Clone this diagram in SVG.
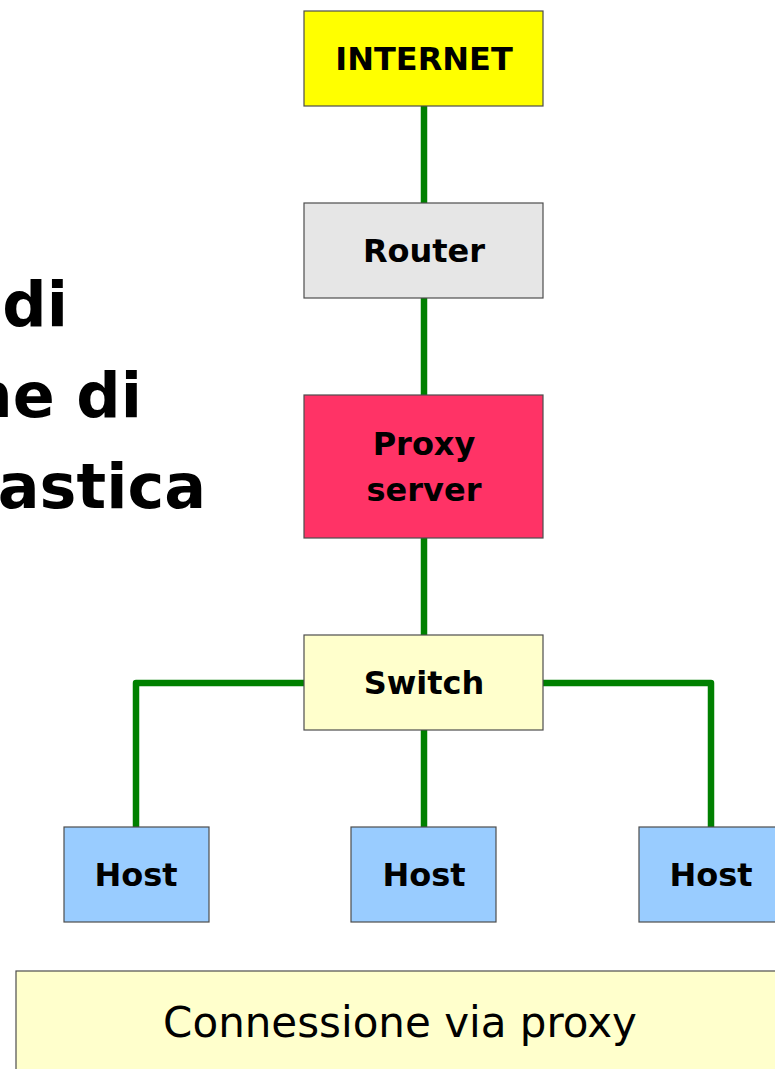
<svg xmlns="http://www.w3.org/2000/svg" width="775" height="1069" viewBox="0 0 775 1069">
  <style>
    .box { stroke: #4d4d4d; stroke-width: 1.2; }
    .lbl { font-family: "DejaVu Sans", "Liberation Sans", sans-serif; font-weight: bold; font-size: 32px; fill: #000; text-anchor: middle; }
    .title { font-family: "DejaVu Sans", "Liberation Sans", sans-serif; font-weight: bold; font-size: 62px; fill: #000; text-anchor: end; }
    .link { fill: none; stroke: #008000; stroke-width: 6.5; stroke-linejoin: round; }
  </style>
  <rect width="775" height="1069" fill="#ffffff"/>

  <!-- title text, partly outside the page -->
  <g id="title">
    <text class="title" x="68" y="326">di</text>
    <text class="title" x="142" y="417">ne di</text>
    <text class="title" x="206" y="508">astica</text>
  </g>

  <!-- cabling -->
  <g id="connectors">
    <line class="link" x1="424" y1="106" x2="424" y2="203"/>
    <line class="link" x1="424" y1="298" x2="424" y2="395"/>
    <line class="link" x1="424" y1="538" x2="424" y2="635"/>
    <line class="link" x1="424" y1="730" x2="424" y2="827"/>
    <polyline class="link" points="304,683 136,683 136,827"/>
    <polyline class="link" points="543,683 711,683 711,827"/>
  </g>

  <g id="internet">
    <rect class="box" x="304" y="11" width="239" height="95" fill="#ffff00"/>
    <text class="lbl" x="424" y="70">INTERNET</text>
  </g>
  <g id="router">
    <rect class="box" x="304" y="203" width="239" height="95" fill="#e6e6e6"/>
    <text class="lbl" x="424" y="262">Router</text>
  </g>
  <g id="proxy">
    <rect class="box" x="304" y="395" width="239" height="143" fill="#ff3366"/>
    <text class="lbl" x="424" y="455">Proxy</text>
    <text class="lbl" x="424" y="501">server</text>
  </g>
  <g id="switch">
    <rect class="box" x="304" y="635" width="239" height="95" fill="#ffffcc"/>
    <text class="lbl" x="424" y="694">Switch</text>
  </g>
  <g id="host1">
    <rect class="box" x="64" y="827" width="145" height="95" fill="#99ccff"/>
    <text class="lbl" x="136" y="886">Host</text>
  </g>
  <g id="host2">
    <rect class="box" x="351" y="827" width="145" height="95" fill="#99ccff"/>
    <text class="lbl" x="424" y="886">Host</text>
  </g>
  <g id="host3">
    <rect class="box" x="639" y="827" width="145" height="95" fill="#99ccff"/>
    <text class="lbl" x="711" y="886">Host</text>
  </g>

  <g id="caption">
    <rect class="box" x="16" y="971" width="780" height="120" fill="#ffffcc"/>
    <text x="400" y="1037" font-family="'DejaVu Sans', 'Liberation Sans', sans-serif" font-size="42" text-anchor="middle" fill="#000">Connessione via proxy</text>
  </g>
</svg>
